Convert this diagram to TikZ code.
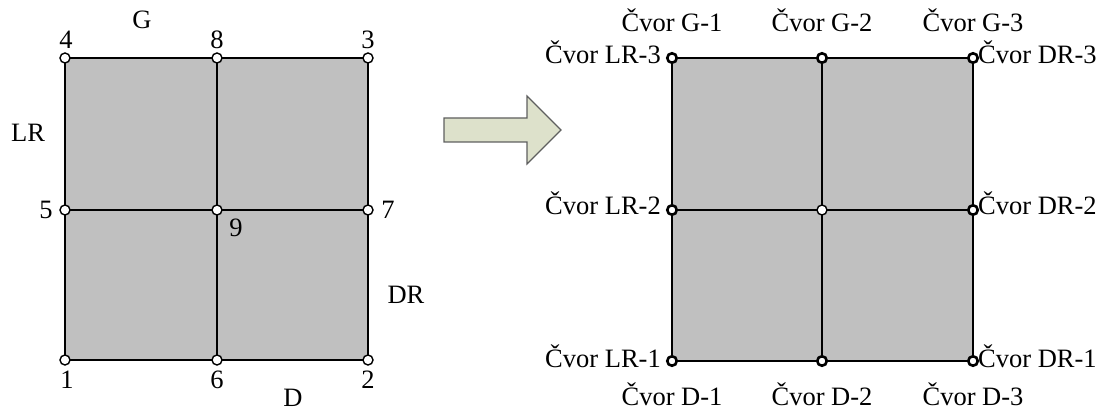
\documentclass[tikz,border=0pt]{standalone}
\usepackage{fontspec}
\setmainfont{Liberation Serif}
\begin{document}
\begin{tikzpicture}[x=1pt,y=-1pt,
  lbl/.style={inner sep=0pt,font=\fontsize{26.5}{29}\selectfont},
  pt/.style={circle,draw,fill=white,line width=1.4pt,minimum size=10pt,inner sep=0pt},
  bpt/.style={circle,draw,fill=white,line width=2.6pt,minimum size=9.5pt,inner sep=0pt},
  grid/.style={line width=1.8pt},
  arr/.style={fill=arrowfill,draw=arrowline,line width=1.2pt,line join=miter}]
\definecolor{cellgray}{RGB}{192,192,192}
\definecolor{arrowfill}{RGB}{221,225,203}
\definecolor{arrowline}{RGB}{95,95,95}
\useasboundingbox (0,0) rectangle (1104,414);
% ---------- left grid ----------
\coordinate (L1) at (65,360);  \coordinate (L6) at (217,360); \coordinate (L2) at (368,360);
\coordinate (L5) at (65,210);  \coordinate (L9) at (217,210); \coordinate (L7) at (368,210);
\coordinate (L4) at (65,58);   \coordinate (L8) at (217,58);  \coordinate (L3) at (368,58);
\fill[cellgray] (L1) rectangle (L3);
\draw[grid] (L1) rectangle (L3);
\draw[grid] (L8) -- (L6);
\draw[grid] (L5) -- (L7);
\foreach \n in {1,...,9} \node[pt] (p\n) at (L\n) {};
\node[lbl] (tG) at (142,20) {G};
\node[lbl] (t4) at (66,40) {4};
\node[lbl] (t8) at (217,40) {8};
\node[lbl] (t3) at (368,40) {3};
\node[lbl] (tLR) at (28,133) {LR};
\node[lbl] (t5) at (46,210) {5};
\node[lbl] (t7) at (388,210) {7};
\node[lbl] (t9) at (236,228) {9};
\node[lbl] (tDR) at (406,295) {DR};
\node[lbl] (t1) at (67,380) {1};
\node[lbl] (t6) at (217,380) {6};
\node[lbl] (t2) at (368,380) {2};
\node[lbl] (tD) at (293,398) {D};
% ---------- arrow ----------
\draw[arr] (444,118) -- (527,118) -- (527,96) -- (561,130) -- (527,164) -- (527,142) -- (444,142) -- cycle;
% ---------- right grid ----------
\coordinate (R11) at (672,361); \coordinate (R21) at (822,361); \coordinate (R31) at (973,361);
\coordinate (R12) at (672,210); \coordinate (R22) at (822,210); \coordinate (R32) at (973,210);
\coordinate (R13) at (672,58);  \coordinate (R23) at (822,58);  \coordinate (R33) at (973,58);
\fill[cellgray] (R11) rectangle (R33);
\draw[grid] (R11) rectangle (R33);
\draw[grid] (R23) -- (R21);
\draw[grid] (R12) -- (R32);
\foreach \n in {11,21,31,12,32,13,23,33} \node[bpt] (q\n) at (R\n) {};
\node[pt] (q22) at (R22) {};
\node[lbl,anchor=base] (g1) at (672,32) {Čvor G-1};
\node[lbl,anchor=base] (g2) at (822,32) {Čvor G-2};
\node[lbl,anchor=base] (g3) at (973,32) {Čvor G-3};
\node[lbl,anchor=base] (d1) at (672,405) {Čvor D-1};
\node[lbl,anchor=base] (d2) at (822,405) {Čvor D-2};
\node[lbl,anchor=base] (d3) at (973,405) {Čvor D-3};
\node[lbl,anchor=base east] (lr3) at (661,64) {Čvor LR-3};
\node[lbl,anchor=base east] (lr2) at (661,215) {Čvor LR-2};
\node[lbl,anchor=base east] (lr1) at (661,367) {Čvor LR-1};
\node[lbl,anchor=base west] (dr3) at (978,64) {Čvor DR-3};
\node[lbl,anchor=base west] (dr2) at (978,215) {Čvor DR-2};
\node[lbl,anchor=base west] (dr1) at (978,367) {Čvor DR-1};
\end{tikzpicture}
\end{document}
